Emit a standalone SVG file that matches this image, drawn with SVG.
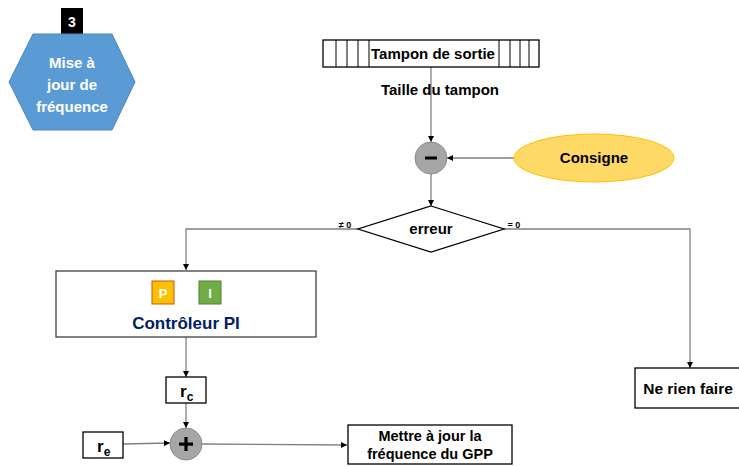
<svg xmlns="http://www.w3.org/2000/svg" width="739" height="466" viewBox="0 0 739 466">
<defs>
<style>
text{font-family:"Liberation Sans",Arial,sans-serif;font-weight:bold;text-anchor:middle}
.lbl{font-size:15px;fill:#000}
.box{fill:#fff;stroke:#000;stroke-width:1.3}
.conn{fill:none;stroke:#808080;stroke-width:1.3}
.sum{fill:#A6A6A6;stroke:#8C8C8C;stroke-width:1}
</style>
<marker id="arr" viewBox="0 0 10 10" refX="10" refY="5" markerWidth="6" markerHeight="6" orient="auto" markerUnits="userSpaceOnUse">
<path d="M0,0 L10,5 L0,10 z" fill="#000"/>
</marker>
</defs>
<rect width="739" height="466" fill="#fff"/>

<g id="step">
<rect x="61" y="8" width="22" height="26" fill="#000"/>
<text x="72" y="27" style="font-size:14px;fill:#fff">3</text>
<polygon points="33,34 112,34 135,82 112,130 33,130 9,82" fill="#5B9BD5" stroke="#4A86C0" stroke-width="1"/>
<text x="72" y="68" style="font-size:15px;fill:#fff">Mise à</text>
<text x="72" y="90" style="font-size:15px;fill:#fff">jour de</text>
<text x="72" y="112" style="font-size:15px;fill:#fff">fréquence</text>
</g>

<g id="connectors">
<line class="conn" x1="431" y1="67" x2="431" y2="142" marker-end="url(#arr)"/>
<line class="conn" x1="514" y1="158" x2="447" y2="158" marker-end="url(#arr)"/>
<line class="conn" x1="431" y1="174" x2="431" y2="206" marker-end="url(#arr)"/>
<polyline class="conn" points="358,229 186,229 186,270" marker-end="url(#arr)"/>
<polyline class="conn" points="504,229 690,229 690,368" marker-end="url(#arr)"/>
<line class="conn" x1="186" y1="337" x2="186" y2="377" marker-end="url(#arr)"/>
<line class="conn" x1="186" y1="403" x2="186" y2="428" marker-end="url(#arr)"/>
<line class="conn" x1="123" y1="444" x2="170" y2="443" marker-end="url(#arr)"/>
<line class="conn" x1="202" y1="444" x2="347" y2="445" marker-end="url(#arr)"/>
</g>

<g id="tampon">
<rect class="box" x="323" y="40" width="216" height="27"/>
<g stroke="#000" stroke-width="1">
<line x1="336" y1="40" x2="336" y2="67"/><line x1="347" y1="40" x2="347" y2="67"/>
<line x1="358" y1="40" x2="358" y2="67"/><line x1="369" y1="40" x2="369" y2="67"/>
<line x1="499" y1="40" x2="499" y2="67"/><line x1="510" y1="40" x2="510" y2="67"/>
<line x1="520" y1="40" x2="520" y2="67"/><line x1="529" y1="40" x2="529" y2="67"/>
</g>
<text class="lbl" x="433" y="59">Tampon de sortie</text>
</g>

<g id="taille">
<text class="lbl" x="440" y="95">Taille du tampon</text>
</g>

<g id="minus">
<circle class="sum" cx="431" cy="158" r="16"/>
<rect x="425" y="156.5" width="12" height="3" fill="#000"/>
</g>

<g id="consigne">
<ellipse cx="594" cy="158" rx="80" ry="24" fill="#FFD966" stroke="#FFC000" stroke-width="1"/>
<text x="594" y="163" style="font-size:15px">Consigne</text>
</g>

<g id="erreur">
<polygon points="431,206 504,229 431,252 358,229" fill="#fff" stroke="#000" stroke-width="1.3"/>
<text class="lbl" x="431" y="234">erreur</text>
<text x="345" y="228" style="font-size:9px">≠ 0</text>
<text x="514" y="228" style="font-size:9px">= 0</text>
</g>

<g id="pi">
<rect x="56" y="271" width="260" height="66" fill="#fff" stroke="#404040" stroke-width="1.3"/>
<rect x="152" y="281" width="22" height="23" fill="#FFC000" stroke="#C55A11" stroke-width="1"/>
<text x="163" y="298" style="font-size:13px;fill:#fff">P</text>
<rect x="199" y="281" width="22" height="23" fill="#70AD47" stroke="#507E32" stroke-width="1"/>
<text x="210" y="298" style="font-size:13px;fill:#fff">I</text>
<text x="186" y="329" style="font-size:17px;fill:#002060">Contrôleur PI</text>
</g>

<g id="rc">
<rect class="box" x="166" y="377" width="40" height="26"/>
<text x="180" y="397" style="font-size:17px;text-anchor:start">r<tspan style="font-size:12px" dy="4">c</tspan></text>
</g>

<g id="re">
<rect class="box" x="83" y="432" width="40" height="26"/>
<text x="97" y="452" style="font-size:17px;text-anchor:start">r<tspan style="font-size:12px" dy="4">e</tspan></text>
</g>

<g id="plus">
<circle class="sum" cx="186" cy="444" r="16"/>
<rect x="179" y="442.5" width="14" height="3.2" fill="#000"/>
<rect x="184.4" y="437" width="3.2" height="14" fill="#000"/>
</g>

<g id="mettre">
<rect class="box" x="348" y="425" width="164" height="39"/>
<text x="430" y="441" style="font-size:14.5px">Mettre à jour la</text>
<text x="430" y="459" style="font-size:14.5px">fréquence du GPP</text>
</g>

<g id="rien">
<rect class="box" x="635" y="368" width="110" height="40"/>
<text x="688" y="394" style="font-size:15.5px">Ne rien faire</text>
</g>
</svg>
